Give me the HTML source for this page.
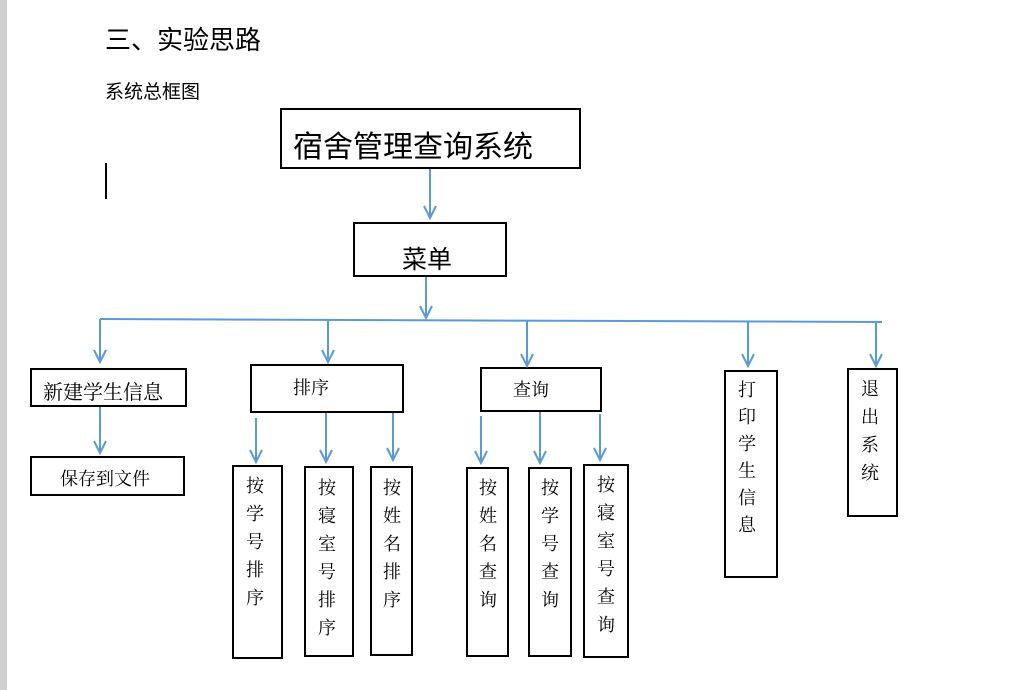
<!DOCTYPE html>
<html><head><meta charset="utf-8"><style>
body{margin:0;width:1026px;height:690px;background:#fff;position:relative;overflow:hidden;font-family:"Liberation Sans","Noto Sans CJK SC",sans-serif;color:#000}
.b{position:absolute;border:2px solid #000;box-sizing:border-box}
.t{position:absolute;white-space:nowrap}
.v{position:absolute;font-family:"Liberation Serif","Noto Serif CJK SC",serif;font-size:18px;line-height:28px;width:24px;text-align:center}
.s{font-family:"Liberation Serif","Noto Serif CJK SC",serif}
</style></head><body>
<div style="position:absolute;left:0;top:0;width:7px;height:690px;background:#d0d0d0"></div>
<div class="t" style="left:105px;top:20px;font-size:26px">三、实验思路</div>
<div class="t" style="left:105px;top:77px;font-size:19px">系统总框图</div>
<div style="position:absolute;left:105px;top:163px;width:2px;height:36px;background:#000"></div>
<div class="b" style="left:280px;top:108px;width:301px;height:61px"></div>
<div class="t" style="left:293px;top:122px;font-size:30px">宿舍管理查询系统</div>
<div class="b" style="left:353px;top:222px;width:154px;height:55px"></div>
<div class="t" style="left:402px;top:240px;font-size:25px">菜单</div>
<div class="b" style="left:30px;top:368px;width:157px;height:39px"></div>
<div class="t s" style="left:43px;top:376px;font-size:20px">新建学生信息</div>
<div class="b" style="left:30px;top:456px;width:155px;height:40px"></div>
<div class="t s" style="left:60px;top:465px;font-size:18px">保存到文件</div>
<div class="b" style="left:250px;top:364px;width:154px;height:49px"></div>
<div class="t s" style="left:293px;top:374px;font-size:18px">排序</div>
<div class="b" style="left:480px;top:367px;width:122px;height:45px"></div>
<div class="t s" style="left:513px;top:376px;font-size:18px">查询</div>
<div class="b" style="left:232px;top:465px;width:51px;height:194px"></div>
<div class="v" style="left:243px;top:472px">按<br>学<br>号<br>排<br>序</div>
<div class="b" style="left:304px;top:466px;width:50px;height:191px"></div>
<div class="v" style="left:315px;top:474px">按<br>寝<br>室<br>号<br>排<br>序</div>
<div class="b" style="left:370px;top:466px;width:43px;height:190px"></div>
<div class="v" style="left:380px;top:474px">按<br>姓<br>名<br>排<br>序</div>
<div class="b" style="left:466px;top:467px;width:43px;height:190px"></div>
<div class="v" style="left:476px;top:474px">按<br>姓<br>名<br>查<br>询</div>
<div class="b" style="left:528px;top:467px;width:44px;height:190px"></div>
<div class="v" style="left:538px;top:474px">按<br>学<br>号<br>查<br>询</div>
<div class="b" style="left:583px;top:464px;width:46px;height:194px"></div>
<div class="v" style="left:594px;top:471px">按<br>寝<br>室<br>号<br>查<br>询</div>
<div class="b" style="left:724px;top:370px;width:54px;height:208px"></div>
<div class="v" style="left:735px;top:377px;line-height:27px">打<br>印<br>学<br>生<br>信<br>息</div>
<div class="b" style="left:847px;top:368px;width:51px;height:149px"></div>
<div class="v" style="left:858px;top:375px;line-height:28px">退<br>出<br>系<br>统</div>
<svg width="1026" height="690" style="position:absolute;left:0;top:0" fill="none" stroke="#5b9bd5" stroke-width="2">
<path d="M430 169V218M424 206l6 12 6-12"/>
<path d="M426 277V318M420 306l6 12 6-12"/>
<path d="M100 319L882 322"/>
<path d="M100 319V362M94 350l6 12 6-12"/>
<path d="M100 407V453M94 441l6 12 6-12"/>
<path d="M328 319V362M322 350l6 12 6-12"/>
<path d="M527 321V366M521 354l6 12 6-12"/>
<path d="M748 322V366M742 354l6 12 6-12"/>
<path d="M876 322V366M870 354l6 12 6-12"/>
<path d="M256 418V462M250 450l6 12 6-12"/>
<path d="M326 413V462M320 450l6 12 6-12"/>
<path d="M393 413V460M387 448l6 12 6-12"/>
<path d="M481 416V463M475 451l6 12 6-12"/>
<path d="M540 412V463M534 451l6 12 6-12"/>
<path d="M600 414V460M594 448l6 12 6-12"/>
</svg>
</body></html>
